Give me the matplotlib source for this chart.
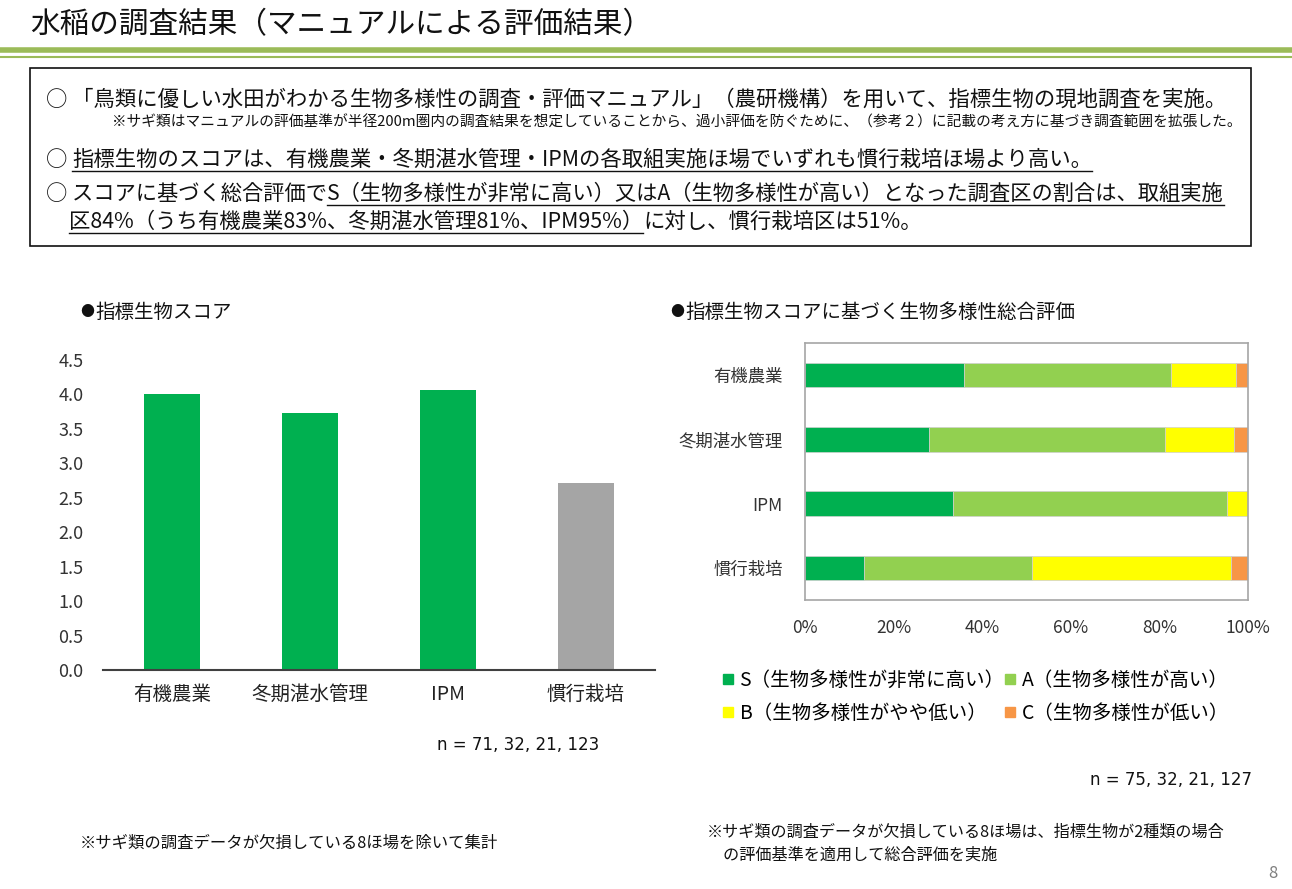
import matplotlib
matplotlib.use('Agg')
import matplotlib.pyplot as plt
from matplotlib.lines import Line2D
from matplotlib.patches import Rectangle

plt.rcParams['font.family'] = ['Noto Sans CJK JP', 'DejaVu Sans']

W, H = 1292, 889

# 指標生物スコア
score_cats = ['有機農業', '冬期湛水管理', 'IPM', '慣行栽培']
score_vals = [4.01, 3.73, 4.06, 2.71]
score_colors = ['#00B050', '#00B050', '#00B050', '#A5A5A5']
score_ticks = [0.0, 0.5, 1.0, 1.5, 2.0, 2.5, 3.0, 3.5, 4.0, 4.5]

# 総合評価（%）
eval_cats = ['有機農業', '冬期湛水管理', 'IPM', '慣行栽培']
eval_S = [36.0, 28.1, 33.3, 13.4]
eval_A = [46.7, 53.1, 61.9, 37.8]
eval_B = [14.7, 15.6, 4.8, 44.9]
eval_C = [2.7, 3.1, 0.0, 3.9]
eval_labels = ['S（生物多様性が非常に高い）', 'A（生物多様性が高い）',
               'B（生物多様性がやや低い）', 'C（生物多様性が低い）']
eval_colors = ['#00B050', '#92D050', '#FFFF00', '#F79646']
pct_ticks = [0, 20, 40, 60, 80, 100]

fig = plt.figure(figsize=(W / 100, H / 100), dpi=100)
renderer = fig.canvas.get_renderer()


def fx(x):
    return x / W


def fy(y):
    return 1 - y / H


def rect(l, t, r, b):
    return [fx(l), fy(b), (r - l) / W, (b - t) / H]


def write_line(x, y, pieces, size):
    # 文字列を順に並べ、必要な所に下線を引く
    for s, ul in pieces:
        t = fig.text(fx(x), fy(y), s, fontsize=size, va='baseline', ha='left', color='#111111')
        bb = t.get_window_extent(renderer)
        if ul:
            fig.add_artist(Line2D([bb.x0 / W, bb.x1 / W], [fy(y + 5)] * 2,
                                  color='#111111', lw=1.0, transform=fig.transFigure))
        x = bb.x1


# タイトル
fig.text(fx(30), fy(25), '水稲の調査結果（マニュアルによる評価結果）', fontsize=21.3,
         va='center', ha='left', color='#111111')
fig.add_artist(Line2D([0, 1], [fy(50)] * 2, color='#9BBB59', lw=4, transform=fig.transFigure))
fig.add_artist(Line2D([0, 1], [fy(56.5)] * 2, color='#9BBB59', lw=1.5, transform=fig.transFigure))

# 枠
fig.add_artist(Rectangle((fx(30), fy(246)), (1251 - 30) / W, (246 - 68) / H,
                         fill=False, ec='#111111', lw=1.2, transform=fig.transFigure))

write_line(46, 106, [('○ 「鳥類に優しい水田がわかる生物多様性の調査・評価マニュアル」（農研機構）を用いて、指標生物の現地調査を実施。', False)], 15.4)
write_line(112, 127, [('※サギ類はマニュアルの評価基準が半径200m圏内の調査結果を想定していることから、過小評価を防ぐために、（参考２）に記載の考え方に基づき調査範囲を拡張した。', False)], 10.6)
write_line(46, 166, [('○ ', False),
                     ('指標生物のスコアは、有機農業・冬期湛水管理・IPMの各取組実施ほ場でいずれも慣行栽培ほ場より高い。', True)], 15.4)
write_line(46, 200, [('○ スコアに基づく総合評価で', False),
                     ('S（生物多様性が非常に高い）又はA（生物多様性が高い）となった調査区の割合は、取組実施', True)], 15.3)
write_line(69, 228, [('区84%（うち有機農業83%、冬期湛水管理81%、IPM95%）', True),
                     ('に対し、慣行栽培区は51%。', False)], 15.4)

# 見出し
fig.text(fx(80), fy(312), '●', fontsize=10, va='center', ha='left', color='#111111')
fig.text(fx(95), fy(312), '指標生物スコア', fontsize=14, va='center', ha='left', color='#111111')
fig.text(fx(670), fy(312), '●', fontsize=10, va='center', ha='left', color='#111111')
fig.text(fx(685), fy(312), '指標生物スコアに基づく生物多様性総合評価', fontsize=14,
         va='center', ha='left', color='#111111')

# 左：指標生物スコア
ax1 = fig.add_axes(rect(103, 360, 655, 670))
ax1.bar(range(len(score_cats)), score_vals, width=0.4, color=score_colors)
ax1.set_xlim(-0.5, len(score_cats) - 0.5)
ax1.set_ylim(0, 4.5)
ax1.set_yticks(score_ticks)
ax1.set_yticklabels([f'{v:.1f}' for v in score_ticks])
ax1.set_xticks(range(len(score_cats)))
ax1.set_xticklabels(score_cats)
for s in ['top', 'right', 'left']:
    ax1.spines[s].set_visible(False)
ax1.spines['bottom'].set_color('#404040')
ax1.spines['bottom'].set_linewidth(1.5)
ax1.tick_params(axis='y', length=0, labelsize=13, labelcolor='#333333', pad=14)
ax1.tick_params(axis='x', length=0, labelsize=14, labelcolor='#222222', pad=10)

fig.text(fx(437), fy(745), 'n = 71, 32, 21, 123', fontsize=12, family='DejaVu Sans',
         va='center', ha='left', color='#111111')
fig.text(fx(80), fy(843), '※サギ類の調査データが欠損している8ほ場を除いて集計', fontsize=11.8,
         va='center', ha='left', color='#111111')

# 右：総合評価
ax2 = fig.add_axes(rect(805, 343, 1248, 600))
ypos = list(range(len(eval_cats)))
left = [0.0] * len(eval_cats)
handles = []
for vals, col, lab in zip([eval_S, eval_A, eval_B, eval_C], eval_colors, eval_labels):
    ax2.barh(ypos, vals, left=left, height=0.38, color=col, edgecolor='#d0d0d0', linewidth=0.5)
    left = [a + b for a, b in zip(left, vals)]
    handles.append(Line2D([], [], marker='s', ls='none', color=col, markersize=7, label=lab))
ax2.set_xlim(0, 100)
ax2.set_ylim(len(eval_cats) - 0.5, -0.5)
ax2.set_yticks(ypos)
ax2.set_yticklabels(eval_cats)
ax2.set_xticks(pct_ticks)
ax2.set_xticklabels([f'{v}%' for v in pct_ticks])
for s in ax2.spines.values():
    s.set_color('#a6a6a6')
    s.set_linewidth(1.2)
ax2.tick_params(length=0, labelsize=12.5, labelcolor='#333333')
ax2.tick_params(axis='y', pad=16)
ax2.tick_params(axis='x', pad=14)

fig.legend(handles=[handles[0], handles[2], handles[1], handles[3]], ncol=2,
           loc='upper left', bbox_to_anchor=(fx(722), fy(670)), frameon=False,
           fontsize=14, handlelength=0.6, handletextpad=0.3, columnspacing=0.0,
           labelspacing=0.62, borderaxespad=0, borderpad=0)

fig.text(fx(1090), fy(780), 'n = 75, 32, 21, 127', fontsize=12, family='DejaVu Sans',
         va='center', ha='left', color='#111111')
fig.text(fx(707), fy(832), '※サギ類の調査データが欠損している8ほ場は、指標生物が2種類の場合',
         fontsize=11.6, va='center', ha='left', color='#111111')
fig.text(fx(707), fy(855), '　の評価基準を適用して総合評価を実施', fontsize=11.6,
         va='center', ha='left', color='#111111')
fig.text(fx(1268), fy(873), '8', fontsize=12, va='center', ha='left', color='#7f7f7f')

fig.savefig('out.png', dpi=100)
